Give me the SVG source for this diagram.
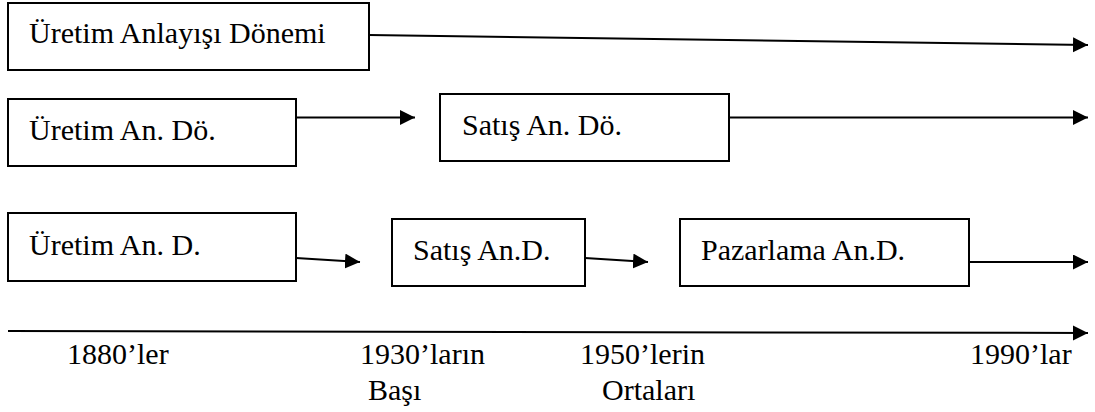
<svg xmlns="http://www.w3.org/2000/svg" width="1095" height="412" viewBox="0 0 1095 412">
  <style>
    .box { fill: #ffffff; stroke: #000000; stroke-width: 2; }
    .lbl { font-family: "Liberation Serif", "Times New Roman", serif; font-size: 30px; fill: #000000; }
    .conn { fill: none; stroke: #000000; stroke-width: 2; marker-end: url(#arrow); }
  </style>
  <defs>
    <!-- filled triangular arrowhead shared by all connectors -->
    <marker id="arrow" markerUnits="userSpaceOnUse" markerWidth="16" markerHeight="16" refX="15" refY="7.5" orient="auto">
      <path d="M0,0 L15,7.5 L0,15 Z" fill="#000000"/>
    </marker>
  </defs>
  <rect width="1095" height="412" fill="#ffffff"/>

  <!-- connectors and the time axis -->
  <g id="connectors">
    <path class="conn" d="M369,35 L1088,45"/>
    <path class="conn" d="M296,117.5 L415,117.5"/>
    <path class="conn" d="M729,117.5 L1088,117.5"/>
    <path class="conn" d="M296,258 L360,262"/>
    <path class="conn" d="M585,258 L648,262"/>
    <path class="conn" d="M969,262 L1088,262"/>
    <path class="conn" d="M8,331 L1088,333"/>
  </g>

  <!-- row 1 -->
  <g id="uretim-anlayisi-donemi">
    <rect class="box" x="8" y="3" width="361" height="67"/>
    <text class="lbl" x="29" y="43" font-family="Liberation Serif">Üretim Anlayışı Dönemi</text>
  </g>

  <!-- row 2 -->
  <g id="uretim-an-do">
    <rect class="box" x="8" y="99" width="288" height="67"/>
    <text class="lbl" x="29" y="140" font-family="Liberation Serif">Üretim An. Dö.</text>
  </g>
  <g id="satis-an-do">
    <rect class="box" x="440" y="94" width="289" height="67"/>
    <text class="lbl" x="462" y="135" font-family="Liberation Serif">Satış An. Dö.</text>
  </g>

  <!-- row 3 -->
  <g id="uretim-an-d">
    <rect class="box" x="8" y="213" width="288" height="68"/>
    <text class="lbl" x="29" y="255" font-family="Liberation Serif">Üretim An. D.</text>
  </g>
  <g id="satis-an-d">
    <rect class="box" x="392" y="219" width="193" height="67"/>
    <text class="lbl" x="413" y="260" font-family="Liberation Serif">Satış An.D.</text>
  </g>
  <g id="pazarlama-an-d">
    <rect class="box" x="680" y="219" width="289" height="67"/>
    <text class="lbl" x="701" y="260" font-family="Liberation Serif">Pazarlama An.D.</text>
  </g>

  <!-- time axis labels -->
  <g id="timeline-labels">
    <text class="lbl" x="67" y="364">1880’ler</text>
    <text class="lbl" x="360" y="364">1930’ların</text>
    <text class="lbl" x="368" y="400">Başı</text>
    <text class="lbl" x="580" y="364">1950’lerin</text>
    <text class="lbl" x="602" y="400">Ortaları</text>
    <text class="lbl" x="970" y="364">1990’lar</text>
  </g>
</svg>
